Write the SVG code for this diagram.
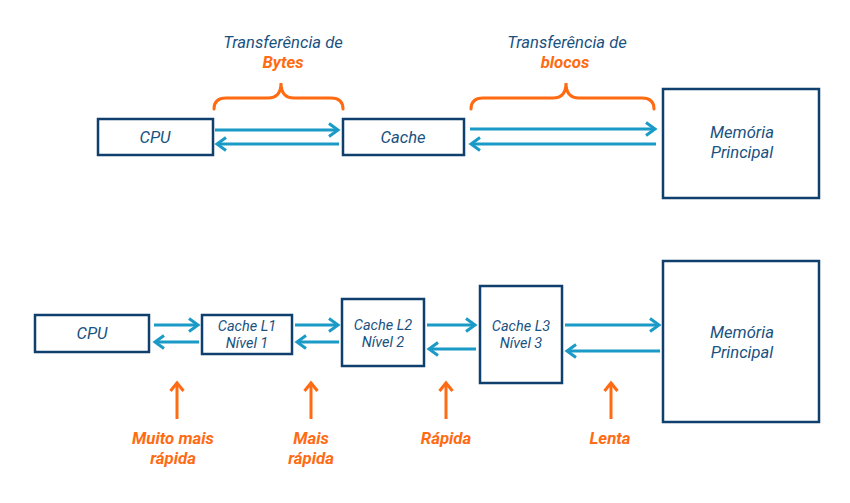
<svg xmlns="http://www.w3.org/2000/svg" width="850" height="503" viewBox="0 0 850 503">
<style>
.box{fill:#fff;stroke:#0f3f6c;stroke-width:2.5}
.lbl{font-family:Roboto,"Liberation Sans",sans-serif;font-style:italic;fill:#19527f;text-anchor:middle}
.big{font-size:16.6px}
.sm{font-size:14.5px}
.org{font-family:Roboto,"Liberation Sans",sans-serif;font-style:italic;font-weight:bold;font-size:16.8px;fill:#ff6b13;text-anchor:middle}
.ar{stroke:#1a9ac6;stroke-width:3;fill:none;marker-end:url(#ch)}
.oa{stroke:#ff6b13;stroke-width:3;fill:none;marker-end:url(#och)}
.br{stroke:#ff6b13;stroke-width:3;fill:none;stroke-linecap:round}
</style>
<defs>
<marker id="ch" markerWidth="20" markerHeight="20" refX="0" refY="0" orient="auto" markerUnits="userSpaceOnUse" overflow="visible">
<path d="M-9,-6.5 L0,0 L-9,6.5" fill="none" stroke="#1a9ac6" stroke-width="3" stroke-linejoin="miter"/>
</marker>
<marker id="och" markerWidth="20" markerHeight="20" refX="0" refY="0" orient="auto" markerUnits="userSpaceOnUse" overflow="visible">
<path d="M-8,-6.5 L0,0 L-8,6.5" fill="none" stroke="#ff6b13" stroke-width="3"/>
</marker>
</defs>
<rect width="850" height="503" fill="#fff"/>

<g id="connectors">
<line class="ar" x1="215" y1="130" x2="338" y2="130"/>
<line class="ar" x1="339" y1="144" x2="217" y2="144"/>
<line class="ar" x1="470" y1="129" x2="655" y2="129"/>
<line class="ar" x1="656" y1="144" x2="471" y2="144"/>
<line class="ar" x1="154" y1="325" x2="198" y2="325"/>
<line class="ar" x1="199" y1="342" x2="155" y2="342"/>
<line class="ar" x1="295" y1="325" x2="338" y2="325"/>
<line class="ar" x1="339" y1="342" x2="297" y2="342"/>
<line class="ar" x1="427" y1="325" x2="475" y2="325"/>
<line class="ar" x1="476" y1="349" x2="429" y2="349"/>
<line class="ar" x1="565" y1="325" x2="659" y2="325"/>
<line class="ar" x1="660" y1="351" x2="567" y2="351"/>
<line class="oa" x1="177" y1="419" x2="177" y2="383"/>
<line class="oa" x1="311" y1="419" x2="311" y2="383"/>
<line class="oa" x1="446" y1="419" x2="446" y2="383"/>
<line class="oa" x1="611" y1="419" x2="611" y2="383"/>
</g>

<g id="brace-bytes">
<path class="br" d="M214,109 Q214,98 226,98 L268,98 Q281,98 281,83 Q281,98 294,98 L331,98 Q343,98 343,109"/>
<text class="lbl big" x="283" y="48">Transferência de</text>
<text class="org" x="283" y="68">Bytes</text>
</g>
<g id="brace-blocos">
<path class="br" d="M471,109 Q471,98 483,98 L553,98 Q566,98 566,83 Q566,98 579,98 L642,98 Q654,98 654,109"/>
<text class="lbl big" x="567" y="48">Transferência de</text>
<text class="org" x="565" y="68">blocos</text>
</g>

<g id="cpu-top"><rect class="box" x="98" y="119" width="115" height="36"/><text class="lbl big" x="155" y="143">CPU</text></g>
<g id="cache-top"><rect class="box" x="343" y="119" width="121" height="36"/><text class="lbl big" x="403" y="143">Cache</text></g>
<g id="mem-top"><rect class="box" x="663" y="89" width="156" height="109"/><text class="lbl big" x="742" y="138">Memória</text><text class="lbl big" x="742" y="158">Principal</text></g>

<g id="cpu-bot"><rect class="box" x="35" y="315" width="114" height="37"/><text class="lbl big" x="92" y="339">CPU</text></g>
<g id="l1"><rect class="box" x="202" y="315" width="90" height="39"/><text class="lbl sm" x="247" y="331">Cache L1</text><text class="lbl sm" x="247" y="348">Nível 1</text></g>
<g id="l2"><rect class="box" x="342" y="299" width="82" height="67"/><text class="lbl sm" x="383" y="330">Cache L2</text><text class="lbl sm" x="383" y="347">Nível 2</text></g>
<g id="l3"><rect class="box" x="480" y="286" width="82" height="97"/><text class="lbl sm" x="521" y="331">Cache L3</text><text class="lbl sm" x="521" y="348">Nível 3</text></g>
<g id="mem-bot"><rect class="box" x="663" y="261" width="156" height="161"/><text class="lbl big" x="742" y="338">Memória</text><text class="lbl big" x="742" y="358">Principal</text></g>

<g id="speed-labels">
<text class="org" x="173" y="444">Muito mais</text><text class="org" x="173" y="464">rápida</text>
<text class="org" x="311" y="444">Mais</text><text class="org" x="311" y="464">rápida</text>
<text class="org" x="446" y="444">Rápida</text>
<text class="org" x="610" y="444">Lenta</text>
</g>
</svg>
